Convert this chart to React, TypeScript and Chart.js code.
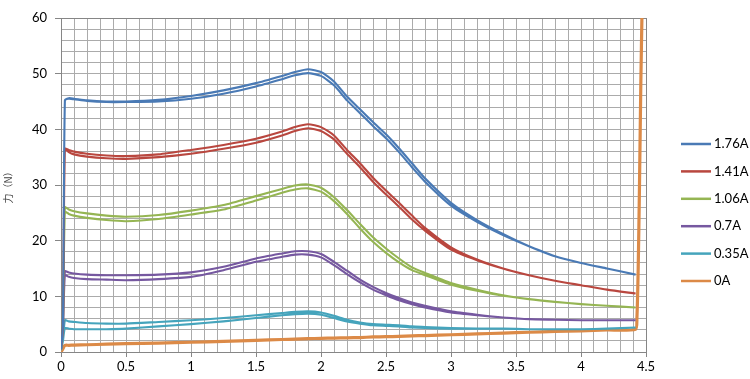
import React, { useEffect, useRef } from "react";
import { Chart, registerables } from "chart.js";

Chart.register(...registerables);

// Shared x positions (displacement) for the forward and return strands
const X_GRID = [0, 0.015, 0.03, 0.06, 0.1, 0.2, 0.35, 0.5, 0.75, 1.0, 1.25, 1.5, 1.7, 1.8, 1.9, 2.0, 2.1, 2.2, 2.3, 2.4, 2.5, 2.6, 2.7, 2.8, 3.0, 3.2, 3.4, 3.6, 3.8, 4.0, 4.2, 4.42];

const A176_UP = [0.5, 5, 45.2, 45.6, 45.5, 45.2, 45.0, 45.0, 45.3, 46.0, 47.0, 48.3, 49.6, 50.3, 50.8, 50.3, 48.6, 45.9, 43.6, 41.3, 39.1, 36.6, 33.9, 31.2, 26.8, 23.7, 21.2, 19.0, 17.2, 16.0, 15.0, 13.9];
const A176_DOWN = [0.5, 5, 45.2, 45.5, 45.4, 45.1, 44.9, 44.9, 45.0, 45.5, 46.4, 47.7, 49.0, 49.7, 50.1, 49.6, 47.9, 45.2, 42.9, 40.6, 38.4, 35.9, 33.2, 30.6, 26.3, 23.4, 21.0, 19.0, 17.2, 16.0, 15.0, 13.9];

const A141_UP = [0.5, 5, 36.5, 36.3, 36.0, 35.6, 35.3, 35.2, 35.5, 36.3, 37.2, 38.3, 39.6, 40.4, 40.9, 40.4, 38.9, 36.3, 33.9, 31.3, 29.0, 26.8, 24.5, 22.3, 18.8, 16.6, 15.0, 13.8, 12.8, 12.0, 11.2, 10.5];
const A141_DOWN = [0.5, 5, 36.5, 35.9, 35.5, 35.1, 34.8, 34.7, 35.0, 35.6, 36.5, 37.6, 38.9, 39.7, 40.2, 39.7, 38.2, 35.6, 33.2, 30.6, 28.3, 26.1, 23.8, 21.8, 18.4, 16.5, 15.0, 13.8, 12.8, 12.0, 11.2, 10.5];

const A106_UP = [0.5, 5, 26.0, 25.6, 25.3, 24.9, 24.5, 24.3, 24.6, 25.4, 26.4, 28.0, 29.3, 29.9, 30.1, 29.5, 27.8, 25.5, 23.0, 20.6, 18.6, 16.8, 15.2, 14.2, 12.4, 11.2, 10.2, 9.5, 9.0, 8.6, 8.3, 8.0];
const A106_DOWN = [0.5, 5, 25.2, 24.8, 24.5, 24.1, 23.7, 23.5, 23.9, 24.7, 25.6, 27.2, 28.6, 29.2, 29.4, 28.8, 27.1, 24.8, 22.2, 19.8, 17.8, 16.1, 14.7, 13.8, 12.1, 11.0, 10.1, 9.5, 9.0, 8.6, 8.3, 8.0];

const A07_UP = [0.5, 4, 14.5, 14.3, 14.1, 13.9, 13.8, 13.8, 13.9, 14.3, 15.3, 16.8, 17.7, 18.1, 18.1, 17.6, 16.2, 14.6, 13.0, 11.7, 10.6, 9.7, 8.9, 8.3, 7.3, 6.7, 6.2, 5.9, 5.8, 5.7, 5.7, 5.7];
const A07_DOWN = [0.5, 4, 13.8, 13.5, 13.3, 13.1, 13.0, 12.9, 13.1, 13.5, 14.7, 16.2, 17.1, 17.5, 17.5, 17.0, 15.6, 14.0, 12.5, 11.2, 10.2, 9.3, 8.6, 8.0, 7.1, 6.6, 6.2, 5.9, 5.8, 5.7, 5.7, 5.7];

const A035_UP = [0.3, 2, 5.7, 5.5, 5.4, 5.2, 5.1, 5.1, 5.4, 5.7, 6.1, 6.6, 7.0, 7.2, 7.3, 7.1, 6.5, 5.8, 5.3, 5.0, 4.9, 4.8, 4.6, 4.5, 4.3, 4.2, 4.2, 4.1, 4.1, 4.1, 4.2, 4.4];
const A035_DOWN = [0.3, 2, 4.3, 4.2, 4.1, 4.1, 4.1, 4.2, 4.6, 5.0, 5.5, 6.1, 6.6, 6.8, 6.9, 6.7, 6.1, 5.5, 5.1, 4.8, 4.7, 4.6, 4.4, 4.3, 4.2, 4.2, 4.2, 4.1, 4.1, 4.1, 4.2, 4.4];

const A0_Y = [0, 0.6, 1.2, 1.2, 1.25, 1.3, 1.4, 1.5, 1.6, 1.75, 1.9, 2.1, 2.25, 2.3, 2.4, 2.45, 2.5, 2.55, 2.6, 2.7, 2.75, 2.8, 2.9, 2.95, 3.1, 3.25, 3.4, 3.55, 3.7, 3.8, 3.95, 4.1];
const A0_RISE_X = [4.43, 4.44, 4.45, 4.46, 4.47];
const A0_RISE_Y = [6, 15, 30, 48, 62];

const SERIES_LABELS = ["1.76A", "1.41A", "1.06A", "0.7A", "0.35A", "0A"];
const SERIES_COLORS = ["#4a7ab5", "#b9473f", "#95b553", "#7658a0", "#45a4bc", "#dc8a47"];

const X_MAJOR_TICKS = ["0", "0.5", "1", "1.5", "2", "2.5", "3", "3.5", "4", "4.5"];
const Y_MAJOR_TICKS = ["0", "10", "20", "30", "40", "50", "60"];

function loop(up: number[], down: number[]) {
  const pts = X_GRID.map((x, i) => ({ x, y: up[i] }));
  for (let i = X_GRID.length - 1; i >= 0; i--) pts.push({ x: X_GRID[i], y: down[i] });
  return pts;
}

function zeroCurrent() {
  const pts = X_GRID.map((x, i) => ({ x, y: A0_Y[i] }));
  A0_RISE_X.forEach((x, i) => pts.push({ x, y: A0_RISE_Y[i] }));
  return pts;
}

const FONT = "Lato, 'Liberation Sans', sans-serif";

const sideLegend = {
  id: "sideLegend",
  afterDraw(chart: any) {
    const ctx = chart.ctx;
    chart.data.datasets.forEach((ds: any, i: number) => {
      const y = 144 + i * 27.4;
      ctx.save();
      ctx.strokeStyle = ds.borderColor;
      ctx.lineWidth = 2.5;
      ctx.beginPath();
      ctx.moveTo(681, y);
      ctx.lineTo(711, y);
      ctx.stroke();
      ctx.fillStyle = "#000";
      ctx.font = "13px " + FONT;
      ctx.textBaseline = "middle";
      ctx.textAlign = "left";
      ctx.fillText(ds.label, 714, y);
      ctx.restore();
    });
  },
};

export default function App() {
  const ref = useRef<HTMLCanvasElement | null>(null);

  useEffect(() => {
    if (!ref.current) return;
    const series = [
      loop(A176_UP, A176_DOWN),
      loop(A141_UP, A141_DOWN),
      loop(A106_UP, A106_DOWN),
      loop(A07_UP, A07_DOWN),
      loop(A035_UP, A035_DOWN),
      zeroCurrent(),
    ];
    const chart = new Chart(ref.current, {
      type: "line",
      data: {
        datasets: series.map((data, i) => ({
          label: SERIES_LABELS[i],
          data,
          borderColor: SERIES_COLORS[i],
          backgroundColor: SERIES_COLORS[i],
          borderWidth: i === 5 ? 3.2 : 2.1,
          pointRadius: 0,
          tension: 0.2,
          fill: false,
        })),
      },
      options: {
        animation: false,
        responsive: false,
        maintainAspectRatio: false,
        layout: { padding: { left: 0, top: 18, right: 104, bottom: 0 } },
        plugins: {
          legend: { display: false },
          tooltip: { enabled: false },
        },
        scales: {
          x: {
            type: "linear",
            min: 0,
            max: 4.5,
            afterFit: (s: any) => {
              s.height = 27;
            },
            ticks: {
              stepSize: 0.1,
              autoSkip: false,
              maxRotation: 0,
              padding: 2,
              color: "#000",
              font: { family: FONT, size: 13 },
              callback: (v: any) => {
                const r = Math.round(Number(v) * 10);
                return r % 5 === 0 ? X_MAJOR_TICKS[r / 5] : "";
              },
            },
            grid: {
              color: (c: any) => {
                const r = c.tick ? Math.round(c.tick.value * 10) : 0;
                return r === 45 ? "#868686" : "#ababab";
              },
              tickColor: (c: any) => {
                const r = c.tick ? Math.round(c.tick.value * 10) : 1;
                return r % 5 === 0 ? "#868686" : "rgba(0,0,0,0)";
              },
              tickLength: 5,
            },
            border: { color: "#868686", width: 1 },
          },
          y: {
            type: "linear",
            min: 0,
            max: 60,
            afterFit: (s: any) => {
              s.width = 61;
            },
            title: {
              display: true,
              text: "力（N）",
              color: "#404040",
              font: { family: "'Noto Sans CJK SC', sans-serif", size: 10 },
              padding: { top: 2, bottom: 0 },
            },
            ticks: {
              stepSize: 2,
              autoSkip: false,
              padding: 8,
              color: "#000",
              font: { family: FONT, size: 13 },
              callback: (v: any) => {
                const n = Math.round(Number(v));
                return n % 10 === 0 ? Y_MAJOR_TICKS[n / 10] : "";
              },
            },
            grid: {
              color: (c: any) => {
                const n = c.tick ? Math.round(c.tick.value) : 0;
                return n === 60 ? "#868686" : "#ababab";
              },
              tickColor: (c: any) => {
                const n = c.tick ? Math.round(c.tick.value) : 1;
                return n % 10 === 0 ? "#868686" : "rgba(0,0,0,0)";
              },
              tickLength: 6,
            },
            border: { color: "#868686", width: 1 },
          },
        },
      },
      plugins: [sideLegend],
    });
    return () => chart.destroy();
  }, []);

  return (
    <div style={{ position: "fixed", left: 0, top: 0, width: 750, height: 379, background: "#fff" }}>
      <canvas ref={ref} width={750} height={379} style={{ width: 750, height: 379, display: "block" }} />
    </div>
  );
}
